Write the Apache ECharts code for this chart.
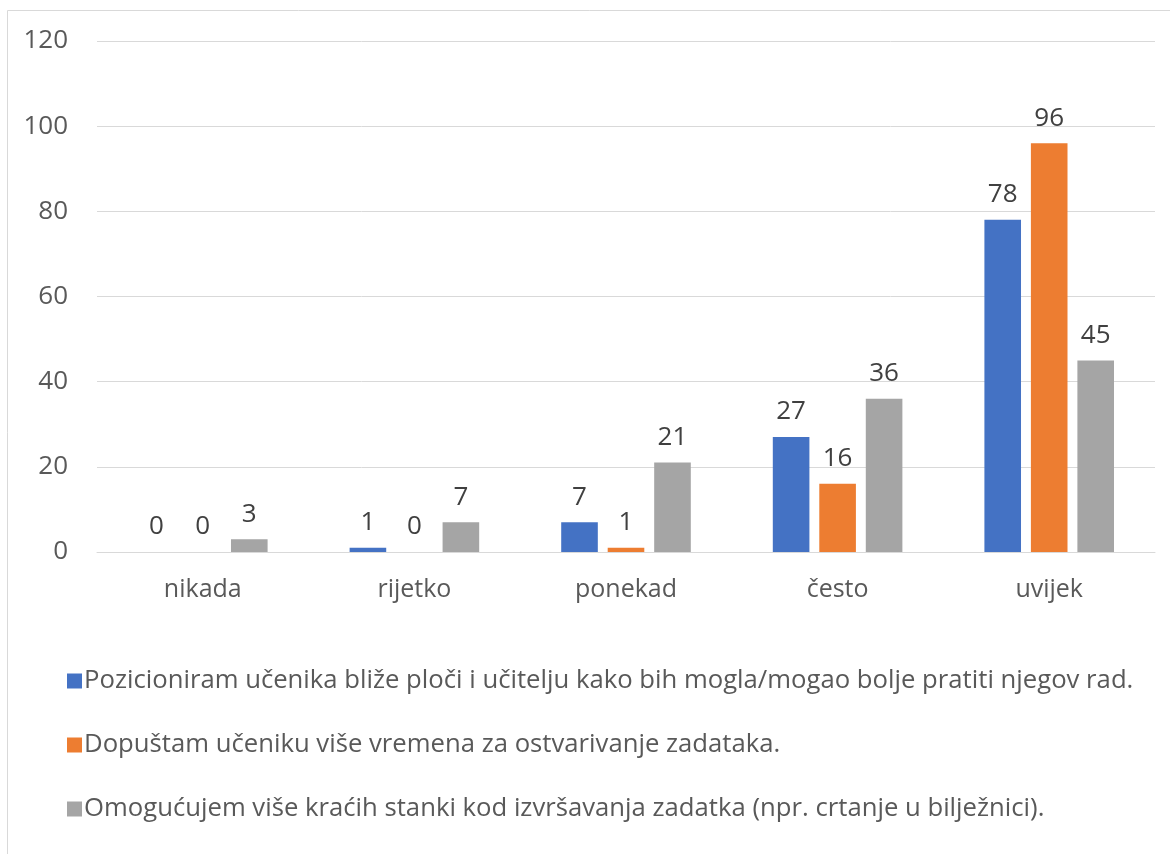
<!DOCTYPE html>
<html>
<head>
<meta charset="utf-8">
<title>Chart</title>
<script src="https://cdn.jsdelivr.net/npm/echarts@6/dist/echarts.min.js"></script>
<style>
  html, body { margin: 0; padding: 0; background: #fff; }
  #chart { width: 1170px; height: 854px; }
</style>
</head>
<body>
<div id="chart"></div>
<script>
var categories = ['nikada', 'rijetko', 'ponekad', 'često', 'uvijek']
var seriesNames = [
  'Pozicioniram učenika bliže ploči i učitelju kako bih mogla/mogao bolje pratiti njegov rad.',
  'Dopuštam učeniku više vremena za ostvarivanje zadataka.',
  'Omogućujem više kraćih stanki kod izvršavanja zadatka (npr. crtanje u bilježnici).'
]
var pozicioniram = [0, 1, 7, 27, 78]
var dopustam = [0, 0, 1, 16, 96]
var omogucujem = [3, 7, 21, 36, 45]
var colors = ['#4472C4', '#ED7D31', '#A5A5A5']

var font = '"Open Sans", "Noto Sans", sans-serif'

function makeSeries(name, data, color) {
  return {
    name: name,
    type: 'bar',
    data: data,
    barWidth: '17.3%',
    barGap: '27%',
    itemStyle: { color: color },
    label: {
      show: true,
      position: 'top',
      distance: 12,
      color: '#404040',
      fontSize: 26,
      fontFamily: font
    }
  }
}

var chart = echarts.init(document.getElementById('chart'))
chart.setOption({
  animation: false,
  textStyle: { fontFamily: font },
  graphic: [{
    type: 'rect',
    shape: { x: 7.5, y: 10.5, width: 1300, height: 1000 },
    style: { fill: 'none', stroke: '#d9d9d9', lineWidth: 1 },
    silent: true
  }],
  grid: { left: 97, right: 15, top: 41, bottom: 302 },
  legend: {
    orient: 'vertical',
    left: 62,
    top: 663,
    itemWidth: 15,
    itemHeight: 15,
    itemGap: 38,
    icon: 'rect',
    textStyle: { color: '#595959', fontSize: 25.7, fontFamily: font, padding: [0, 0, 0, -3] },
    data: seriesNames
  },
  xAxis: {
    type: 'category',
    data: categories,
    axisTick: { show: false },
    axisLine: { lineStyle: { color: '#d9d9d9' } },
    axisLabel: { color: '#595959', fontSize: 25, fontFamily: font, margin: 25 }
  },
  yAxis: {
    type: 'value',
    min: 0,
    max: 120,
    interval: 20,
    axisLine: { show: false },
    axisTick: { show: false },
    splitLine: { lineStyle: { color: '#d9d9d9', width: 1 } },
    axisLabel: { color: '#595959', fontSize: 26, fontFamily: font, margin: 29 }
  },
  series: [
    makeSeries(seriesNames[0], pozicioniram, colors[0]),
    makeSeries(seriesNames[1], dopustam, colors[1]),
    makeSeries(seriesNames[2], omogucujem, colors[2])
  ]
})
</script>
</body>
</html>
